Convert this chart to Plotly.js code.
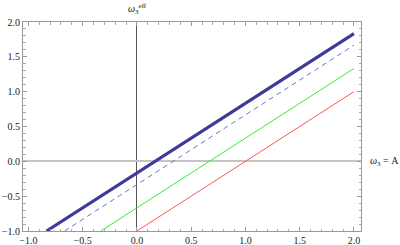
<!DOCTYPE html>
<html>
<head>
<meta charset="utf-8">
<script src="https://cdn.plot.ly/plotly-3.0.1.min.js"></script>
<style>html,body{margin:0;padding:0;background:#fff;}#plot{width:400px;height:245px;}</style>
</head>
<body>
<div id="plot"></div>
<script>
// Line endpoints (each line has slope 1)
var thickX = [-0.833, 2.0];
var thickY = [-1.0, 1.833];
var dashedX = [-0.667, 2.0];
var dashedY = [-1.0, 1.667];
var greenX = [-0.333, 2.0];
var greenY = [-1.0, 1.333];
var redX = [0.0, 2.0];
var redY = [-1.0, 1.0];

var xTickVals = [-1.0, -0.5, 0.0, 0.5, 1.0, 1.5, 2.0];
var xTickText = ['\u22121.0', '\u22120.5', '0.0', '0.5', '1.0', '1.5', '2.0'];
var yTickVals = [-1.0, -0.5, 0.0, 0.5, 1.0, 1.5, 2.0];
var yTickText = ['\u22121.0', '\u22120.5', '0.0', '0.5', '1.0', '1.5', '2.0'];

var traces = [
  {x: redX, y: redY, mode: 'lines', line: {color: '#ff5555', width: 1}},
  {x: greenX, y: greenY, mode: 'lines', line: {color: '#33ee33', width: 1}},
  {x: dashedX, y: dashedY, mode: 'lines', line: {color: '#7070cc', width: 1, dash: '5px,4px'}},
  {x: thickX, y: thickY, mode: 'lines', line: {color: '#3c3c96', width: 3.2}}
];

var axisCommon = {
  showgrid: false,
  showline: true,
  linecolor: '#999',
  linewidth: 1,
  mirror: 'ticks',
  ticks: 'inside',
  ticklen: 4,
  tickcolor: '#999',
  tickwidth: 1,
  tickmode: 'array',
  tickfont: {family: 'Liberation Serif', size: 10, color: '#222'},
  minor: {dtick: 0.1, ticks: 'inside', ticklen: 2.5, tickcolor: '#aaa', tickwidth: 1, showgrid: false}
};

var layout = {
  width: 400, height: 245,
  margin: {l: 23, r: 39, t: 22, b: 14},
  paper_bgcolor: '#fff', plot_bgcolor: '#fff',
  showlegend: false,
  xaxis: Object.assign({}, axisCommon, {
    range: [-1.05, 2.065],
    tickvals: xTickVals, ticktext: xTickText,
    zeroline: true, zerolinecolor: '#555', zerolinewidth: 1
  }),
  yaxis: Object.assign({}, axisCommon, {
    range: [-1.0, 2.0],
    tickvals: yTickVals, ticktext: yTickText,
    zeroline: true, zerolinecolor: '#c4c4c4', zerolinewidth: 2
  }),
  annotations: [
    {xref: 'paper', yref: 'paper', x: (137 - 23) / 338, y: 1, yshift: 4, xanchor: 'center', yanchor: 'bottom', showarrow: false,
     text: '<i>ω</i><sub>3</sub><sup>eff</sup>', font: {family: 'Liberation Serif', size: 10, color: '#222'}},
    {xref: 'paper', yref: 'y', x: 1, xshift: 7, y: 0, xanchor: 'left', yanchor: 'middle', showarrow: false,
     text: '<i>ω</i><sub>3</sub> = A', font: {family: 'Liberation Serif', size: 10, color: '#222'}}
  ]
};

Plotly.newPlot('plot', traces, layout, {staticPlot: true, displayModeBar: false});
</script>
</body>
</html>
